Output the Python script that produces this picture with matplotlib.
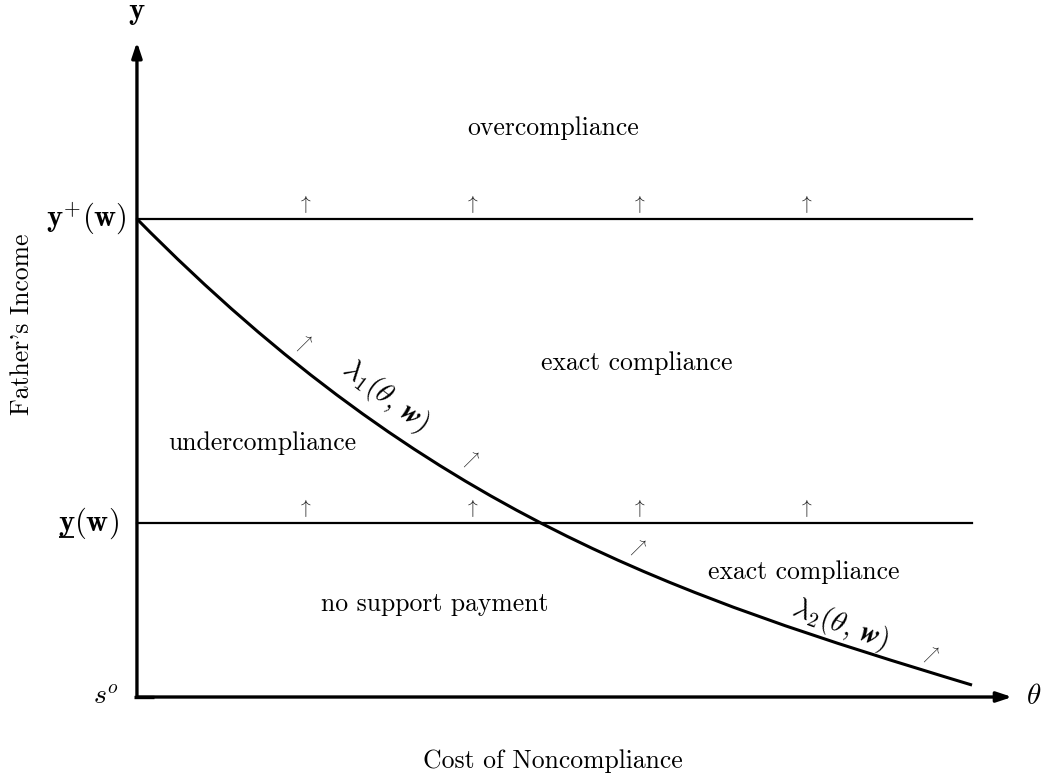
import numpy as np
import matplotlib
matplotlib.use("Agg")
import matplotlib.pyplot as plt
from matplotlib.path import Path
from matplotlib.patches import PathPatch

plt.rcParams['font.family'] = 'serif'
plt.rcParams['font.serif'] = ['cmr10']
plt.rcParams['mathtext.fontset'] = 'cm'
plt.rcParams['axes.unicode_minus'] = False

# threshold levels (y+ normalised to 1)
y_plus = 1.0
y_low = 0.364

# lambda curve: end points and bezier handles
curve_x = [0.0, 0.35, 0.65, 1.0]
curve_y = [1.0, 0.38, 0.21, 0.025]

# small up arrows sitting on the horizontal lines
up_arrow_x = [0.2, 0.4, 0.6, 0.8]
# diagonal arrows next to the curve
diag_x = [0.2, 0.4, 0.6, 0.95]
diag_y = [0.74, 0.496, 0.312, 0.088]

region_labels = ['overcompliance', 'exact compliance', 'undercompliance',
                 'exact compliance', 'no support payment']
region_xy = [(0.498, 1.19), (0.598, 0.699), (0.150, 0.531),
             (0.799, 0.262), (0.357, 0.195)]

fig = plt.figure(figsize=(10.42, 7.81), dpi=100)
ax = fig.add_axes([0, 0, 1, 1])
ax.set_xlim(-0.164, 1.0838)
ax.set_ylim(-0.1757, 1.458)
ax.axis('off')

# axes with arrow heads
arrow_kw = dict(arrowstyle='-|>,head_length=0.9,head_width=0.3', lw=2.4,
                color='black', shrinkA=0, shrinkB=0)
ax.annotate('', xy=(0, 1.37), xytext=(0, 0), arrowprops=arrow_kw)
ax.annotate('', xy=(1.048, 0), xytext=(0, 0), arrowprops=arrow_kw)
ax.plot([-0.003, 0.02], [0, 0], color='black', lw=2.4, solid_capstyle='butt')

# horizontal thresholds
ax.plot([0, 1.0], [y_plus, y_plus], color='black', lw=1.6)
ax.plot([0, 1.0], [y_low, y_low], color='black', lw=1.6)

# curve
path = Path(list(zip(curve_x, curve_y)), [Path.MOVETO, Path.CURVE4, Path.CURVE4, Path.CURVE4])
ax.add_patch(PathPatch(path, facecolor='none', edgecolor='black', lw=2.2))

for x in up_arrow_x:
    for y in (y_plus, y_low):
        ax.text(x, y + 0.008, r'$\uparrow$', fontsize=14, ha='center', va='bottom', color='#222222')

for x, y in zip(diag_x, diag_y):
    ax.text(x, y, r'$\nearrow$', fontsize=12, ha='center', va='center', color='#222222')

for lab, (x, y) in zip(region_labels, region_xy):
    ax.text(x, y, lab, fontsize=18.5, ha='center', va='center')

try:
    wsym = r'\boldsymbol{w}'
    ax.text(0.297, 0.63, r'$\lambda_1(\theta,\, %s)$' % wsym, fontsize=21, ha='center',
            va='center', rotation=-37)
    fig.canvas.draw()
except Exception:
    ax.texts[-1].remove()
    wsym = r'\mathbf{w}'
    ax.text(0.297, 0.63, r'$\lambda_1(\theta,\, %s)$' % wsym, fontsize=21, ha='center',
            va='center', rotation=-37)
ax.text(0.842, 0.15, r'$\lambda_2(\theta,\, %s)$' % wsym, fontsize=21, ha='center',
        va='center', rotation=-20)

# level labels on the y axis
ax.text(-0.012, y_plus, r'$\mathbf{y}^{+}(\mathbf{w})$', fontsize=22, ha='right', va='center')
low_lab = ax.text(-0.022, y_low, r'$\mathbf{y}(\mathbf{w})$', fontsize=22, ha='right', va='center')
ax.text(-0.022, 0.0, r'$s^o$', fontsize=20, ha='right', va='center')

# underline the y of the lower label
fig.canvas.draw()
r = fig.canvas.get_renderer()
probe = ax.text(0, 0, r'$\mathbf{y}$', fontsize=22)
yw = probe.get_window_extent(r).width
probe.remove()
bb = low_lab.get_window_extent(r)
inv = ax.transData.inverted()
x0, _ = inv.transform((bb.x0 + 1, 0))
x1, _ = inv.transform((bb.x0 + yw - 1, 0))
ax.plot([x0, x1], [0.335, 0.335], color='black', lw=1.3, solid_capstyle='butt')

ax.text(0.0, 1.43, r'$\mathbf{y}$', fontsize=22, ha='center', va='center')
ax.text(1.065, 0.0, r'$\theta$', fontsize=21, ha='left', va='center')

ax.text(0.498, -0.135, 'Cost of Noncompliance', fontsize=18.5, ha='center', va='center')
ax.text(-0.138, 0.78, "Father's Income", fontsize=18.5, ha='center', va='center', rotation=90)

fig.savefig('out.png', dpi=100)
